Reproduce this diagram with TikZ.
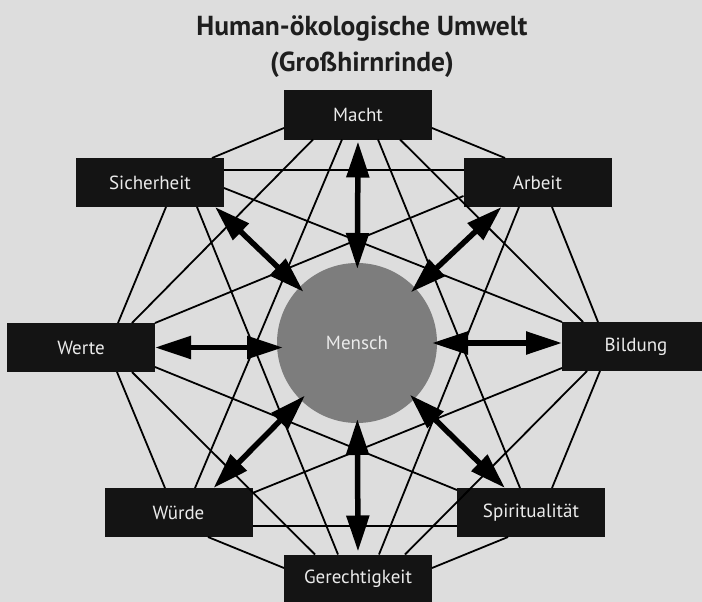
\documentclass[tikz,border=0pt]{standalone}
\usepackage{fontspec}
\setmainfont{PT Sans}
\usetikzlibrary{arrows.meta}
\definecolor{bg}{RGB}{221,221,221}
\definecolor{boxblack}{RGB}{20,20,20}
\definecolor{boxtext}{RGB}{235,235,235}
\definecolor{circgray}{RGB}{125,125,125}
\definecolor{titlecol}{RGB}{30,30,30}
\begin{document}
\begin{tikzpicture}[x=1pt,y=-1pt,
  box/.style={fill=boxblack, text=boxtext, minimum width=148pt, minimum height=49pt,
    inner sep=0pt, outer sep=0pt, font=\fontsize{19}{21}\selectfont},
  titletext/.style={text=titlecol, font=\fontsize{27.5}{30}\selectfont\bfseries, anchor=base, inner sep=0pt},
  link/.style={line width=1.8pt, black},
  dbl/.style={line width=5.5pt, black,
    {Triangle[length=36pt 0 0,width=22pt 0 0]}-{Triangle[length=36pt 0 0,width=22pt 0 0]}}]
\useasboundingbox (0,0) rectangle (702,602);
\fill[bg] (0,0) rectangle (702,602);

\node[titletext] (t1) at (362,36) {Human-ökologische Umwelt};
\node[titletext] (t2) at (362,72) {(Großhirnrinde)};

\node[circle, fill=circgray, minimum size=160pt, inner sep=0pt, outer sep=0pt,
  text=boxtext, font=\fontsize{19}{21}\selectfont] (Mensch) at (357,343) {Mensch};

\node[box] (Macht) at (358,115) {Macht};
\node[box] (Sicherheit) at (150,182.5) {Sicherheit};
\node[box] (Arbeit) at (537.5,182.5) {Arbeit};
\node[box] (Werte) at (81,347.5) {Werte};
\node[box] (Bildung) at (636,346.5) {Bildung};
\node[box] (Wuerde) at (178.5,512.5) {Würde};
\node[box] (Spirit) at (531,512.5) {Spiritualität};
\node[box] (Gerecht) at (358,579) {Gerechtigkeit};

% thin connections
\draw[link] ([shift={(-74,13)}]Macht.center) -- ([shift={(62,-24.5)}]Sicherheit.center);
\draw[link] ([shift={(-45,24.5)}]Macht.center) -- ([shift={(51,-24.5)}]Werte.center);
\draw[link] ([shift={(-16,24.5)}]Macht.center) -- ([shift={(16.5,-24.5)}]Wuerde.center);
\draw[link] ([shift={(74,13)}]Macht.center) -- ([shift={(-32.5,-24.5)}]Arbeit.center);
\draw[link] ([shift={(20,24.5)}]Macht.center) -- ([shift={(-11,-24.5)}]Spirit.center);
\draw[link] ([shift={(42,24.5)}]Macht.center) -- ([shift={(-53,-24.5)}]Bildung.center);
\draw[link] ([shift={(74,-12.5)}]Sicherheit.center) -- ([shift={(-74,-12.5)}]Arbeit.center);
\draw[link] ([shift={(74,5.5)}]Sicherheit.center) -- ([shift={(-74,-24.5)}]Bildung.center);
\draw[link] ([shift={(16,24.5)}]Sicherheit.center) -- ([shift={(37,-24.5)}]Werte.center);
\draw[link] ([shift={(47,24.5)}]Sicherheit.center) -- ([shift={(-20,-24.5)}]Gerecht.center);
\draw[link] ([shift={(74,-24.5)}]Werte.center) -- ([shift={(-74,13.5)}]Arbeit.center);
\draw[link] ([shift={(74,19.5)}]Werte.center) -- ([shift={(-74,-22.5)}]Spirit.center);
\draw[link] ([shift={(36,24.5)}]Werte.center) -- ([shift={(-13.5,-24.5)}]Wuerde.center);
\draw[link] ([shift={(51,24.5)}]Werte.center) -- ([shift={(-43,-24.5)}]Gerecht.center);
\draw[link] ([shift={(74,-19.5)}]Wuerde.center) -- ([shift={(-74,21.5)}]Bildung.center);
\draw[link] ([shift={(74,13.5)}]Wuerde.center) -- ([shift={(-74,13.5)}]Spirit.center);
\draw[link] ([shift={(29.5,24.5)}]Wuerde.center) -- ([shift={(-74,-11)}]Gerecht.center);
\draw[link] ([shift={(-18.5,24.5)}]Arbeit.center) -- ([shift={(21,-24.5)}]Gerecht.center);
\draw[link] ([shift={(14.5,24.5)}]Arbeit.center) -- ([shift={(-38,-24.5)}]Bildung.center);
\draw[link] ([shift={(-49,24.5)}]Bildung.center) -- ([shift={(47,-24.5)}]Gerecht.center);
\draw[link] ([shift={(-36,24.5)}]Bildung.center) -- ([shift={(21,-24.5)}]Spirit.center);
\draw[link] ([shift={(-23,24.5)}]Spirit.center) -- ([shift={(74,-11)}]Gerecht.center);

% thick double arrows
\draw[dbl, shorten <=-6pt] (Mensch) -- ([yshift=-2pt]Macht.south);
\draw[dbl, shorten <=-4pt] (Mensch) -- ([yshift=3pt]Gerecht.north);
\draw[dbl, shorten <=-6pt] (Werte.east -| Mensch.west) -- (Werte.east);
\draw[dbl, shorten <=-5pt] (Mensch.east) -- (Mensch.east -| Bildung.west);
\draw[dbl, shorten <=-6pt] (Mensch) -- ([shift={(-9,0)}]Sicherheit.south east);
\draw[dbl, shorten <=-6pt] (Mensch) -- ([shift={(38,0)}]Arbeit.south west);
\draw[dbl, shorten <=-6pt] (Mensch) -- ([shift={(-39,0)}]Wuerde.north east);
\draw[dbl, shorten <=-6pt] (Mensch) -- ([shift={(48,0)}]Spirit.north west);
\end{tikzpicture}
\end{document}
